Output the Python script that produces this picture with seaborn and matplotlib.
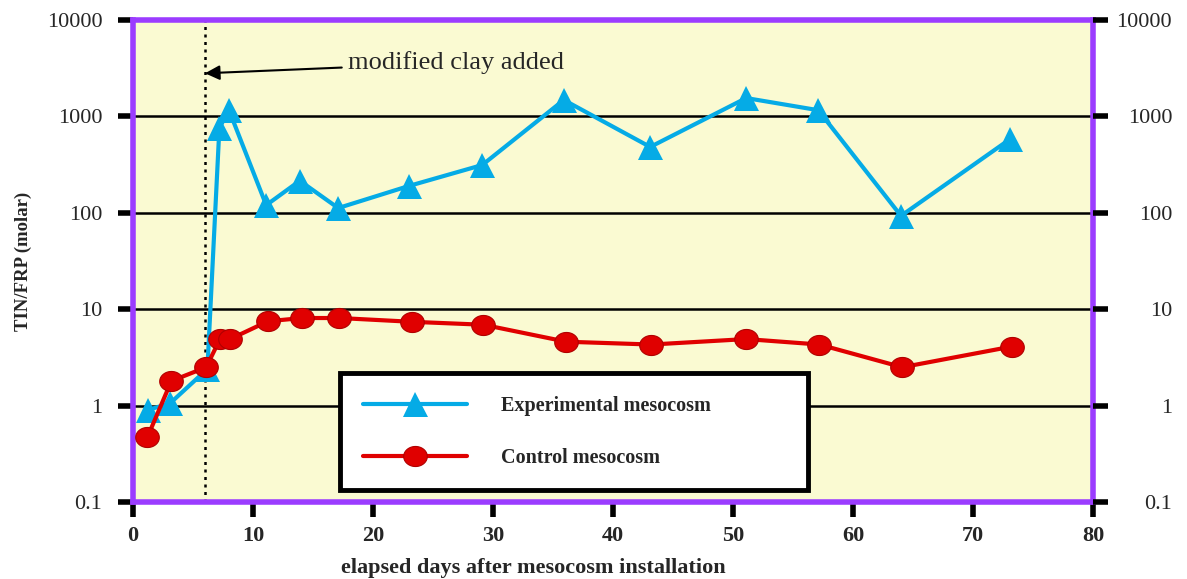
import matplotlib
matplotlib.use("Agg")
import matplotlib.pyplot as plt
import seaborn as sns
import pandas as pd
import numpy as np
from matplotlib.path import Path

exp_days = [1.25, 3.1, 6.2, 7.2, 8.0, 11.1, 13.9, 17.1, 23.0, 29.1, 35.9, 43.1, 51.1, 57.1, 64.0, 73.1]
exp_vals = [0.9, 1.06, 2.4, 760, 1160, 120, 215, 112, 190, 313, 1480, 482, 1550, 1160, 93, 583]
ctl_days = [1.2, 3.2, 6.1, 7.25, 8.1, 11.25, 14.1, 17.2, 23.25, 29.2, 36.1, 43.2, 51.1, 57.2, 64.1, 73.25]
ctl_vals = [0.47, 1.8, 2.5, 4.9, 4.9, 7.5, 8.1, 8.1, 7.4, 6.9, 4.6, 4.3, 4.9, 4.3, 2.5, 4.1]
ytick_vals = [0.1, 1, 10, 100, 1000, 10000]
ytick_labels = ["0.1", "1", "10", "100", "1000", "10000"]
xtick_vals = [0, 10, 20, 30, 40, 50, 60, 70, 80]
clay_day = 6.0

sns.set_theme(style="white")
plt.rcParams['font.family'] = ['Liberation Serif', 'DejaVu Serif']

fig = plt.figure(figsize=(11.87, 5.79), dpi=100)
ax = fig.add_axes([133/1187, 1-502/579, 960/1187, 482/579])
ax.set_facecolor("#FAFAD2")

blue = "#05ABE6"
red = "#E00000"
purple = "#9B3CFF"

# elliptical marker
t = np.linspace(0, 2*np.pi, 60)
ell = Path(np.column_stack([np.cos(t), 0.85*np.sin(t)]), closed=True)

ax.set_yscale("log")
ax.set_xlim(0, 80)
ax.set_ylim(0.1, 10000)

for yv in [1, 10, 100, 1000]:
    ax.axhline(yv, color="black", lw=1.8, zorder=1)
ax.axvline(clay_day, color="black", lw=1.8, ls=(0, (1.2, 1.8)), zorder=1)

df_exp = pd.DataFrame({"day": exp_days, "val": exp_vals})
df_ctl = pd.DataFrame({"day": ctl_days, "val": ctl_vals})
sns.lineplot(data=df_exp, x="day", y="val", ax=ax, color=blue, lw=3, marker="^",
             markersize=18, markeredgecolor=blue, markeredgewidth=0, label="Experimental mesocosm",
             zorder=3, sort=False)
sns.lineplot(data=df_ctl, x="day", y="val", ax=ax, color=red, lw=3, marker=ell,
             markersize=17, markeredgecolor="#B00000", markeredgewidth=0.8, label="Control mesocosm",
             zorder=3, sort=False)

ax.annotate("modified clay added", xy=(clay_day, 2800), xytext=(17.9, 3600),
            fontsize=19, va="center", ha="left",
            arrowprops=dict(arrowstyle="-|>", color="black", lw=1.5, mutation_scale=22,
                            shrinkA=2, shrinkB=0))

for s in ax.spines.values():
    s.set_color(purple)
    s.set_linewidth(4)

ax.set_yticks(ytick_vals)
ax.set_yticklabels(ytick_labels, fontsize=16)
ax.yaxis.set_minor_locator(matplotlib.ticker.NullLocator())
ax.set_xticks(xtick_vals)
ax.set_xticklabels([str(v) for v in xtick_vals], fontsize=16, fontweight="bold")
ax.tick_params(axis="y", which="major", direction="out", length=11, width=4,
               color="black", left=True, pad=11)
ax.tick_params(axis="x", which="major", direction="out", length=11, width=4,
               color="black", bottom=True, pad=6)
ax.set_xlabel("elapsed days after mesocosm installation", fontsize=16, fontweight="bold")
ax.xaxis.set_label_coords(0.417, -0.117)
ax.set_ylabel("TIN/FRP (molar)", fontsize=13.5, fontweight="bold")
ax.yaxis.set_label_coords(-0.105, 0.5)

ax2 = ax.twinx()
ax2.set_yscale("log")
ax2.set_ylim(0.1, 10000)
ax2.set_yticks(ytick_vals)
ax2.set_yticklabels(ytick_labels, fontsize=16, ha="right")
ax2.yaxis.set_minor_locator(matplotlib.ticker.NullLocator())
ax2.tick_params(axis="y", which="major", direction="out", length=11, width=4,
                color="black", right=True, pad=46)
for s in ax2.spines.values():
    s.set_visible(False)

leg = ax.legend(loc="lower left", bbox_to_anchor=(0.216, 0.025, 0.487, 0.243), mode="expand",
                prop={"family": "Liberation Serif", "weight": "bold", "size": 14.5},
                frameon=True, fancybox=False, handlelength=5.2, handletextpad=1.7,
                borderpad=1.1, labelspacing=1.6, borderaxespad=0)
leg.get_frame().set_edgecolor("black")
leg.get_frame().set_linewidth(3.5)
leg.get_frame().set_facecolor("white")
leg.get_frame().set_alpha(1)
leg.set_zorder(5)

fig.savefig("out.png", dpi=100)
